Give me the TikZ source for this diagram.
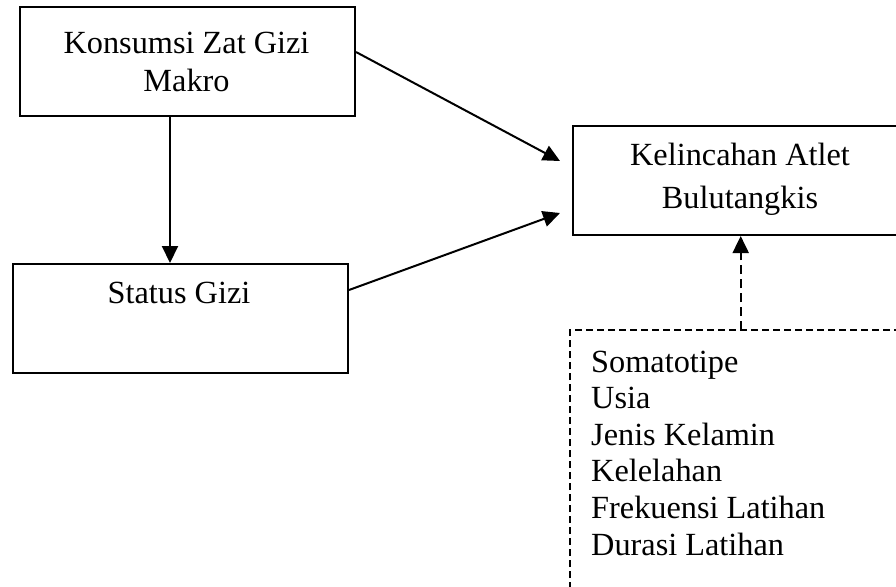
\documentclass[tikz,border=0pt]{standalone}
\usepackage{fontspec}
\setmainfont{Liberation Serif}
\usetikzlibrary{arrows.meta}
\begin{document}
\begin{tikzpicture}[x=1pt,y=-1pt,
  box/.style={draw,line width=2pt,inner sep=0pt,anchor=north west},
  txt/.style={inner sep=0pt,align=center,font=\fontsize{32.3}{37}\selectfont},
  conn/.style={line width=2pt,-{Triangle[length=17pt,width=16pt]}},
  dconn/.style={line width=2pt,dash pattern=on 9pt off 5pt,-{Triangle[length=17pt,width=16pt]}},
  dbox/.style={line width=1.5pt,dash pattern=on 7pt off 4pt}]
\useasboundingbox (0,0) rectangle (896,586);
\clip (0,0) rectangle (896,586);
\node[box,minimum width=335pt,minimum height=109pt] (b1) at (19,6) {};
\node[box,minimum width=335pt,minimum height=109pt] (b2) at (12,263) {};
\node[box,minimum width=330pt,minimum height=109pt] (b3) at (572,125) {};
\draw[dbox] (570,600) -- (570,330) coordinate (f1) -- (905,330) coordinate (f2);
\coordinate (fb) at (740.7,330);
\node[txt,anchor=base] (t1) at (186.5,54) {Konsumsi Zat Gizi};
\node[txt,anchor=base] (t1b) at (186.5,91) {Makro};
\node[txt,anchor=base] (t2) at (179,303) {Status Gizi};
\node[txt,anchor=base] (t3) at (740,165) {Kelincahan Atlet};
\node[txt,anchor=base] (t3b) at (740,208) {Bulutangkis};
\node[txt,anchor=base west] (l1) at (591,372) {Somatotipe};
\node[txt,anchor=base west] (l2) at (591,408.6) {Usia};
\node[txt,anchor=base west] (l3) at (591,445.2) {Jenis Kelamin};
\node[txt,anchor=base west] (l4) at (591,481.8) {Kelelahan};
\node[txt,anchor=base west] (l5) at (591,518.4) {Frekuensi Latihan};
\node[txt,anchor=base west] (l6) at (591,555) {Durasi Latihan};
\draw[conn] ([yshift=9.5pt]b1.east) -- ([xshift=-12pt,yshift=19.5pt]b3.west);
\draw[conn] ([yshift=28.5pt]b2.east) -- ([xshift=-12pt,yshift=-32.5pt]b3.west);
\draw[conn] ([xshift=-17.5pt]b1.south) -- ([xshift=-17.5pt]b1.south |- b2.north);
\draw[dconn] (fb) -- (fb |- b3.south);
\end{tikzpicture}
\end{document}
